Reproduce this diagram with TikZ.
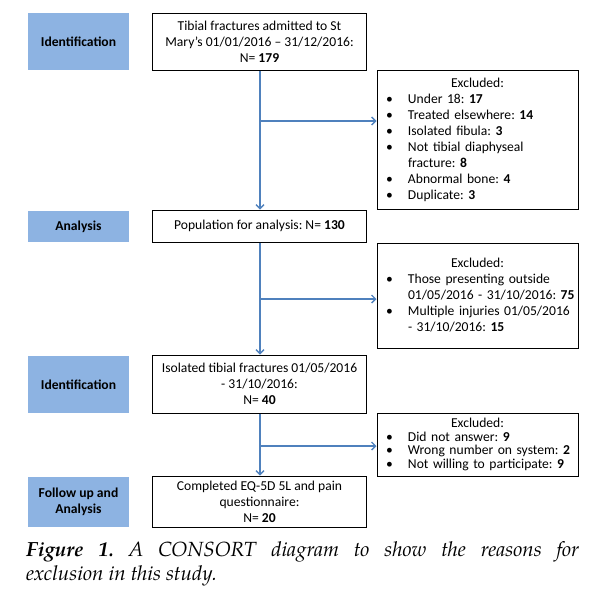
\documentclass[tikz,border=0pt]{standalone}
\usepackage{fontspec}
\setmainfont{Carlito}
\newfontfamily\capfont{texgyrepagella}[Extension=.otf, UprightFont=*-regular, BoldFont=*-bold, ItalicFont=*-italic, BoldItalicFont=*-bolditalic]
\usetikzlibrary{arrows.meta}
\definecolor{lblue}{RGB}{141,179,226}
\definecolor{lineblue}{RGB}{79,129,189}
\frenchspacing
\newcommand\exitem[1]{\par\noindent\hangindent=31pt\hangafter=1\makebox[31pt][l]{\hspace{9pt}\textbullet}#1\par}
\begin{document}
\begin{tikzpicture}[x=1pt,y=-1pt,
  lbl/.style={fill=lblue, minimum width=101pt, inner sep=0pt, align=center,
    font=\fontsize{13.6}{16}\selectfont\bfseries},
  mainbox/.style={draw, line width=1pt, minimum width=214pt, inner sep=0pt, align=center,
    font=\fontsize{13.6}{16}\selectfont},
  exbox/.style={draw, line width=1pt, text width=201pt, inner sep=0pt, align=left,
    font=\fontsize{13.6}{16}\selectfont},
  flow/.style={draw=lineblue, line width=1.3pt, -{Straight Barb[length=4pt,width=8pt]}}]
\useasboundingbox (0,0) rectangle (596,590);

% left labels
\node[lbl, minimum height=57pt] (l1) at (78.5,41.5) {Identification};
\node[lbl, minimum height=31pt] (l2) at (78.5,226.5) {Analysis};
\node[lbl, minimum height=57pt] (l3) at (78.5,384.5) {Identification};
\node[lbl, minimum height=50pt] (l4) at (78.5,502) {Follow up and\\Analysis};

% main boxes
\node[mainbox, minimum height=57pt] (m1) at (259.5,41.5)
  {Tibial fractures admitted to St\\Mary’s 01/01/2016 – 31/12/2016:\\N= \textbf{179}};
\node[mainbox, minimum height=32pt] (m2) at (259.5,226)
  {Population for analysis: N= \textbf{130}};
\node[mainbox, minimum height=58pt] (m3) at (259.5,384)
  {Isolated tibial fractures 01/05/2016\\- 31/10/2016:\\N= \textbf{40}};
\node[mainbox, minimum height=51pt] (m4) at (259.5,501.5)
  {Completed EQ-5D 5L and pain\\questionnaire:\\N= \textbf{20}};

% excluded boxes
\node[exbox, minimum height=139pt] (e1) at (477.5,139.5)
  {\centerline{Excluded:}%
   \exitem{Under 18: \textbf{17}}%
   \exitem{Treated elsewhere: \textbf{14}}%
   \exitem{Isolated fibula: \textbf{3}}%
   \exitem{Not tibial diaphyseal\newline fracture: \textbf{8}}%
   \exitem{Abnormal bone: \textbf{4}}%
   \exitem{Duplicate: \textbf{3}}};
\node[exbox, minimum height=105pt] (e2) at (477.5,295.5)
  {\centerline{Excluded:}%
   \exitem{Those presenting outside\newline 01/05/2016 - 31/10/2016: \textbf{75}}%
   \exitem{Multiple injuries 01/05/2016\newline - 31/10/2016: \textbf{15}}};
\node[exbox, minimum height=63pt, font=\fontsize{13.6}{13.5}\selectfont] (e3) at (477.5,444.5)
  {\centerline{Excluded:}%
   \exitem{Did not answer: \textbf{9}}%
   \exitem{Wrong number on system: \textbf{2}}%
   \exitem{Not willing to participate: \textbf{9}}};

% connectors
\coordinate (b1) at (260,121);
\coordinate (b2) at (260,299);
\coordinate (b3) at (260,446);
\draw[flow] (m1.south -| b1) -- (m2.north -| b1);
\draw[flow] (m2.south -| b2) -- (m3.north -| b2);
\draw[flow] (m3.south -| b3) -- (m4.north -| b3);
\draw[flow] (b1) -- (b1 -| e1.west);
\draw[flow] (b2) -- (b2 -| e2.west);
\draw[flow] (b3) -- (b3 -| e3.west);

% caption
\node[anchor=north west, inner sep=0pt, text width=553pt, align=justify,
  font=\capfont\itshape\fontsize{20.5}{24}\selectfont] (cap) at (26,541)
  {\textbf{Figure 1.} A CONSORT diagram to show the reasons for\linebreak exclusion in this study.};
\end{tikzpicture}
\end{document}
